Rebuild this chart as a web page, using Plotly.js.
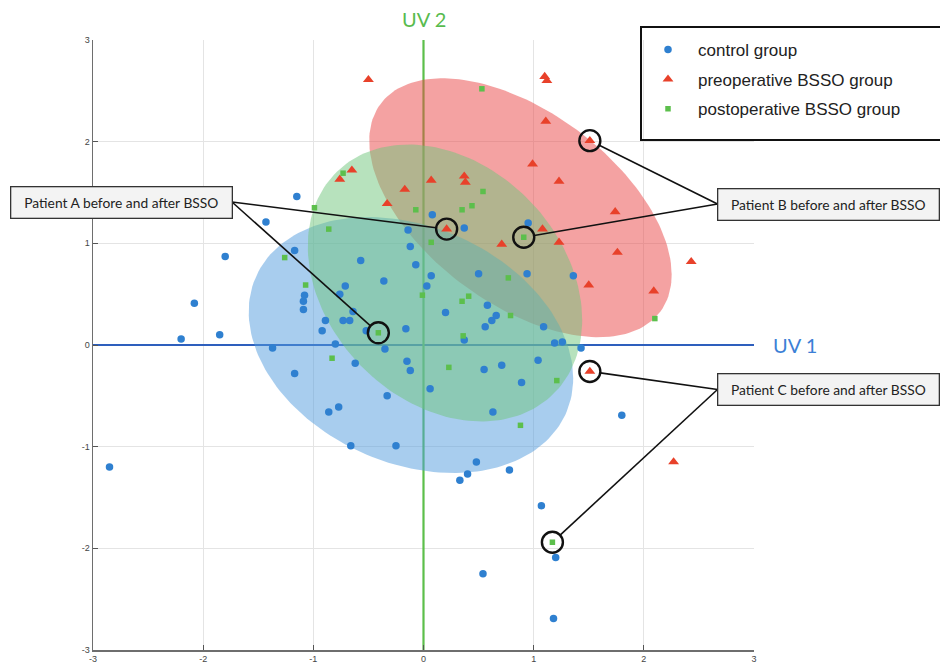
<!DOCTYPE html>
<html>
<head>
<meta charset="utf-8">
<script src="https://cdn.plot.ly/plotly-3.0.1.min.js"></script>
<style>
  html, body { margin: 0; padding: 0; background: #ffffff; }
  #chart { width: 940px; height: 666px; }
</style>
</head>
<body>
<div id="chart"></div>
<script>
// Control group scores (UV 1, UV 2)
const controlX = [-1.15, -1.43, -1.17, -1.80, -0.57, -0.36, -0.71, -1.08, -0.76, -1.09,
                  -2.08, -1.09, -0.64, -0.89, -0.73, -0.67, -0.92, -1.85, -2.20, -0.52,
                  -0.80, -1.37, -0.35, -0.62, -1.17, -0.33, -0.77, -0.86, -0.66, -0.25,
                  -2.85, 0.37, 1.19, 1.26, 1.43, -0.15, -0.12, 0.55, 0.71, 1.04,
                  0.06, 0.89, 0.63, 0.48, 0.40, 0.33, 0.78, 1.80, 1.07, 1.20,
                  0.54, 1.18, 0.08, -0.14, 0.37, 0.95, -0.12, -0.07, 0.07, 0.50,
                  0.94, 1.36, 0.03, 0.58, 0.66, 0.62, 0.20, -0.16, 0.56, 1.09];
const controlY = [1.46, 1.21, 0.93, 0.87, 0.83, 0.63, 0.58, 0.49, 0.50, 0.43,
                  0.41, 0.35, 0.33, 0.24, 0.24, 0.24, 0.14, 0.10, 0.06, 0.14,
                  0.01, -0.03, -0.04, -0.18, -0.28, -0.50, -0.61, -0.66, -0.99, -0.99,
                  -1.20, 0.05, 0.02, 0.03, -0.03, -0.16, -0.25, -0.24, -0.20, -0.15,
                  -0.43, -0.37, -0.66, -1.15, -1.27, -1.33, -1.23, -0.69, -1.58, -2.09,
                  -2.25, -2.69, 1.28, 1.13, 1.15, 1.20, 0.97, 0.79, 0.68, 0.70,
                  0.70, 0.68, 0.58, 0.39, 0.29, 0.24, 0.32, 0.16, 0.18, 0.18];

// Preoperative BSSO group scores
const preX = [-0.50, 1.10, 1.12, 1.11, 1.51, 0.99, 1.23, -0.65, -0.76, 0.07,
              0.37, 0.38, -0.17, -0.33, 0.21, 1.08, 0.71, 1.23, 1.74, 1.76,
              2.43, 1.50, 2.09, 1.51, 2.27];
const preY = [2.61, 2.64, 2.60, 2.20, 2.01, 1.78, 1.61, 1.72, 1.63, 1.62,
              1.66, 1.60, 1.53, 1.39, 1.14, 1.14, 0.99, 1.01, 1.31, 0.91,
              0.82, 0.59, 0.53, -0.26, -1.15];

// Postoperative BSSO group scores
const postX = [-0.73, -0.99, -0.86, -1.26, -1.07, -0.41, -0.83, 0.36, 0.23, 1.21,
               0.88, 1.17, 0.53, 0.54, -0.07, 0.35, 0.44, 0.91, 0.07, 0.77,
               2.10, -0.01, 0.41, 0.35, 0.79];
const postY = [1.69, 1.35, 1.14, 0.86, 0.59, 0.12, -0.13, 0.09, -0.22, -0.35,
               -0.79, -1.94, 2.52, 1.51, 1.33, 1.33, 1.37, 1.06, 1.01, 0.66,
               0.26, 0.49, 0.48, 0.43, 0.29];

// Highlighted patients: index into the pre / post series
const patientLabels = ['Patient A before and after BSSO',
                       'Patient B before and after BSSO',
                       'Patient C before and after BSSO'];
const patientPreIdx = [14, 4, 23];
const patientPostIdx = [5, 17, 11];

// Group regions: centre and second-moment matrix [sxx, syy, sxy] (drawing order: pre, control, post)
const regionCx  = [0.88, -0.114, 0.195];
const regionCy  = [1.35, 0.0, 0.61];
const regionSxx = [1.884, 2.169, 1.551];
const regionSyy = [1.621, 1.584, 1.855];
const regionSxy = [-0.903, -0.483, -0.452];

const axisTicks = [-3, -2, -1, 0, 1, 2, 3];
const axisTickLabels = ['-3', '-2', '-1', '0', '1', '2', '3'];

// ---- geometry helpers ----
const W = 940, H = 666;
const M = { l: 93, r: 186, t: 40, b: 16 };
const plotW = W - M.l - M.r, plotH = H - M.t - M.b;
const pxPerX = plotW / 6, pxPerY = plotH / 6;

function ellipsePath(i) {
  const l11 = Math.sqrt(regionSxx[i]);
  const l21 = regionSxy[i] / l11;
  const l22 = Math.sqrt(regionSyy[i] - l21 * l21);
  const xs = [], ys = [];
  for (let k = 0; k <= 180; k++) {
    const t = 2 * Math.PI * k / 180;
    xs.push(regionCx[i] + l11 * Math.cos(t));
    ys.push(regionCy[i] + l21 * Math.cos(t) + l22 * Math.sin(t));
  }
  return { xs, ys };
}

const regionFill = ['rgba(233,70,70,0.5)', 'rgba(82,156,222,0.5)', 'rgba(112,198,124,0.5)'];

const traces = [];
for (let i = 0; i < 3; i++) {
  const e = ellipsePath(i);
  traces.push({
    x: e.xs, y: e.ys, type: 'scatter', mode: 'lines',
    fill: 'toself', fillcolor: regionFill[i],
    line: { width: 0 }, hoverinfo: 'skip', showlegend: false
  });
}

traces.push({
  x: controlX, y: controlY, type: 'scatter', mode: 'markers', name: 'control group',
  legendgroup: 'g1',
  marker: { symbol: 'circle', size: 7.5, color: '#2f80d0' }
});
traces.push({
  x: preX, y: preY, type: 'scatter', mode: 'markers', name: 'preoperative BSSO group',
  legendgroup: 'g2',
  marker: { symbol: 'triangle-up', size: 9.5, color: '#e8412a' }
});
traces.push({
  x: postX, y: postY, type: 'scatter', mode: 'markers', name: 'postoperative BSSO group',
  legendgroup: 'g3',
  marker: { symbol: 'square', size: 5.5, color: '#5cbf4c' }
});

// label boxes (paper coordinates, centre) and the side the leader lines leave from
const boxCx = [(121 - M.l) / plotW, (828.5 - M.l) / plotW, (828.5 - M.l) / plotW];
const boxCy = [(H - M.b - 202) / plotH, (H - M.b - 204) / plotH, (H - M.b - 389.5) / plotH];
const boxSide = [1, -1, -1];
const boxHalfW = 111;

// ring marks around each highlighted patient
const ringX = [], ringY = [];
patientPreIdx.forEach((p, i) => {
  ringX.push(preX[p], postX[patientPostIdx[i]]);
  ringY.push(preY[p], postY[patientPostIdx[i]]);
});

// leader lines from each label box to the rings
const ringR = 10.5;
for (let i = 0; i < 3; i++) {
  const axp = boxCx[i] + boxSide[i] * boxHalfW / plotW;
  const ax = -3 + 6 * axp;
  const ay = -3 + 6 * boxCy[i];
  const targets = [[preX[patientPreIdx[i]], preY[patientPreIdx[i]]],
                   [postX[patientPostIdx[i]], postY[patientPostIdx[i]]]];
  targets.forEach(([tx, ty]) => {
    const dx = (tx - ax) * pxPerX, dy = (ty - ay) * pxPerY;
    const len = Math.hypot(dx, dy);
    const ex = tx - dx / len * ringR / pxPerX;
    const ey = ty - dy / len * ringR / pxPerY;
    traces.push({
      x: [ax, ex], y: [ay, ey], type: 'scatter', mode: 'lines',
      line: { color: '#111', width: 1.6 }, hoverinfo: 'skip', showlegend: false,
      cliponaxis: false
    });
  });
}

traces.push({
  x: ringX, y: ringY, type: 'scatter', mode: 'markers', hoverinfo: 'skip', showlegend: false,
  marker: { symbol: 'circle-open', size: 21, color: '#111', line: { width: 2.4 } }
});

const annotations = patientLabels.map((t, i) => ({
  text: t, xref: 'paper', yref: 'paper', x: boxCx[i], y: boxCy[i],
  xanchor: 'center', yanchor: 'middle', showarrow: false,
  width: 218, height: 28, borderpad: 1, borderwidth: 1.3,
  bordercolor: '#333', bgcolor: '#f3f3f3',
  font: { family: 'Lato, "Open Sans", sans-serif', size: 13.8, color: '#222' }
}));
annotations.push({
  text: 'UV 1', xref: 'paper', yref: 'y', x: (795 - M.l) / plotW, y: 0,
  xanchor: 'center', yanchor: 'middle', showarrow: false,
  font: { family: 'Lato, "Open Sans", sans-serif', size: 20, color: '#3c7fd6' }
});
annotations.push({
  text: 'UV 2', xref: 'x', yref: 'paper', x: 0, y: 1.034,
  xanchor: 'center', yanchor: 'middle', showarrow: false,
  font: { family: 'Lato, "Open Sans", sans-serif', size: 20, color: '#58bb4e' }
});

const shapes = [
  { type: 'line', xref: 'x', yref: 'y', x0: -3, x1: 3, y0: 0, y1: 0,
    line: { color: '#2e5fbd', width: 2 }, layer: 'between' },
  { type: 'line', xref: 'x', yref: 'y', x0: 0, x1: 0, y0: -3, y1: 3,
    line: { color: '#5cbf4a', width: 2.2 }, layer: 'between' },
  // legend frame
  { type: 'rect', xref: 'paper', yref: 'paper',
    x0: (641 - M.l) / plotW, x1: (990 - M.l) / plotW,
    y0: (H - M.b - 140) / plotH, y1: (H - M.b - 27) / plotH,
    line: { color: '#111', width: 2 }, fillcolor: 'rgba(255,255,255,0)', layer: 'above' }
];

const axisCommon = {
  range: [-3, 3], tickmode: 'array', tickvals: axisTicks, ticktext: axisTickLabels,
  showgrid: true, gridcolor: '#e4e4e4', gridwidth: 1,
  showline: true, linecolor: '#6e6e6e', linewidth: 1.5,
  ticks: 'inside', ticklen: 5, tickcolor: '#555', tickwidth: 1,
  zeroline: false, fixedrange: true,
  tickfont: { family: '"Liberation Sans", Arial, sans-serif', size: 9, color: '#444' }
};

const layout = {
  width: W, height: H,
  margin: M,
  paper_bgcolor: '#ffffff', plot_bgcolor: '#ffffff',
  xaxis: Object.assign({}, axisCommon),
  yaxis: Object.assign({}, axisCommon),
  showlegend: true,
  legend: {
    x: (638 - M.l) / plotW, y: (H - M.b - 32) / plotH,
    xanchor: 'left', yanchor: 'top',
    bgcolor: 'rgba(255,255,255,0)', borderwidth: 0,
    tracegroupgap: 4.5, itemwidth: 50,
    font: { family: '"Liberation Sans", Arial, sans-serif', size: 17, color: '#222' }
  },
  annotations: annotations,
  shapes: shapes
};

Plotly.newPlot('chart', traces, layout, { displayModeBar: false, staticPlot: true });
</script>
</body>
</html>
